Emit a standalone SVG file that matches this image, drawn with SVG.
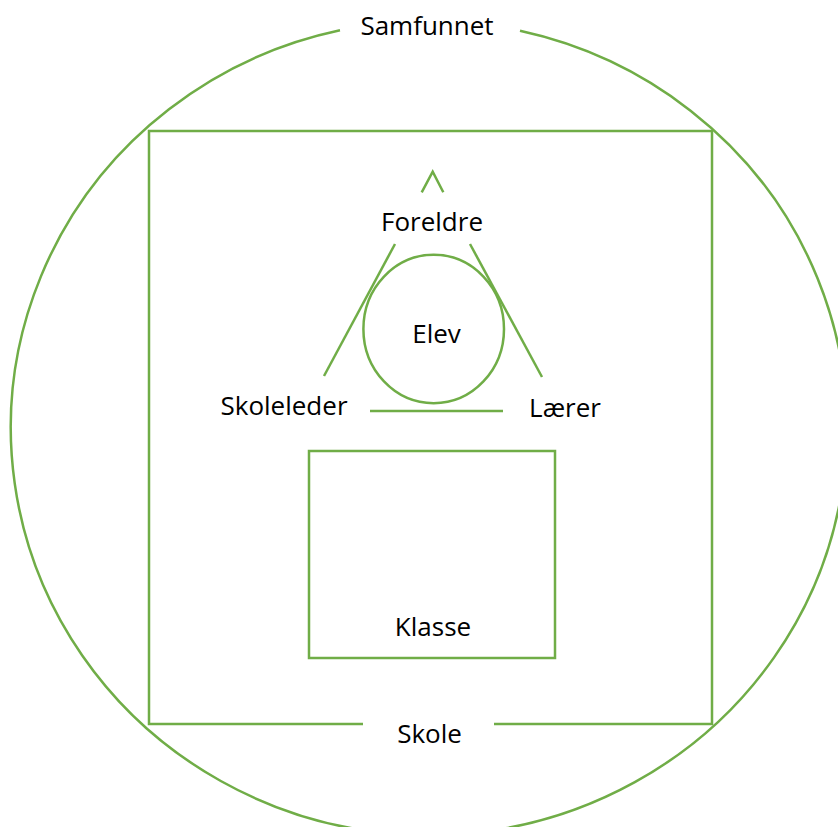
<svg xmlns="http://www.w3.org/2000/svg" width="838" height="827" viewBox="0 0 838 827">
  <style>
    .ln { fill: none; stroke: #70AD47; stroke-width: 2.5; }
    .lbl { font-family: "Open Sans", "Noto Sans", "Liberation Sans", sans-serif; font-size: 26px; fill: #000; text-anchor: middle; }
  </style>
  <rect width="838" height="827" fill="#fff"/>
  <g id="samfunnet">
    <path class="ln" d="M 520 30.8 A 418 407 0 1 1 340 30.3"/>
    <text class="lbl" x="427" y="35">Samfunnet</text>
  </g>
  <g id="skole">
    <path class="ln" d="M 363 724 L 149 724 L 149 131 L 712 131 L 712 724 L 494 724"/>
    <text class="lbl" x="429.5" y="743">Skole</text>
  </g>
  <g id="klasse">
    <rect class="ln" x="309" y="451" width="246" height="207"/>
    <text class="lbl" x="433" y="636">Klasse</text>
  </g>
  <g id="elev">
    <ellipse class="ln" cx="433.7" cy="329" rx="70.3" ry="74.2"/>
    <text class="lbl" x="436.5" y="343">Elev</text>
  </g>
  <g id="foreldre">
    <text class="lbl" x="432" y="231">Foreldre</text>
  </g>
  <g id="skoleleder">
    <text class="lbl" x="284" y="415">Skoleleder</text>
  </g>
  <g id="laerer">
    <text class="lbl" x="565" y="417">Lærer</text>
  </g>
  <g id="connectors">
    <path class="ln" d="M 421.7 192.3 L 432.7 171.7 L 443.3 192.3"/>
    <line class="ln" x1="395" y1="244" x2="324" y2="376"/>
    <line class="ln" x1="470" y1="244" x2="542" y2="377"/>
    <line class="ln" x1="370" y1="411" x2="503" y2="411"/>
  </g>
</svg>
